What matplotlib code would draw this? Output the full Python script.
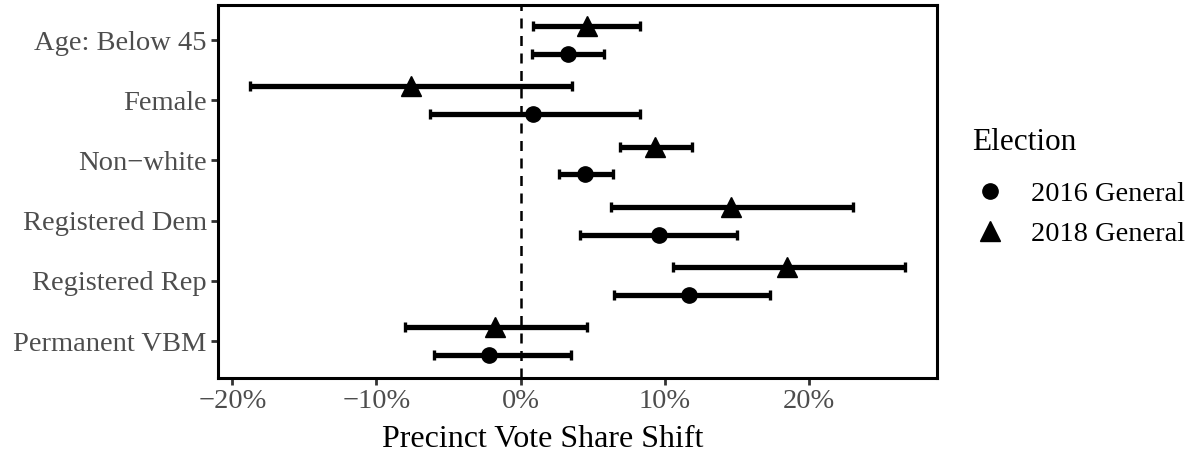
import numpy as np
import matplotlib.pyplot as plt
from matplotlib.lines import Line2D

# ── data (percent) ──
categories = ['Age: Below 45', 'Female', 'Non\u2212white', 'Registered Dem',
              'Registered Rep', 'Permanent VBM']

est_2016 = [3.3, 0.9, 4.5, 9.6, 11.7, -2.2]
lo_2016 = [0.8, -6.3, 2.7, 4.1, 6.5, -6.0]
hi_2016 = [5.8, 8.3, 6.4, 15.0, 17.3, 3.5]

est_2018 = [4.6, -7.6, 9.3, 14.6, 18.5, -1.8]
lo_2018 = [0.9, -18.8, 6.9, 6.3, 10.6, -8.0]
hi_2018 = [8.3, 3.6, 11.9, 23.1, 26.7, 4.6]

xticks = [-20, -10, 0, 10, 20]
legend_labels = ['2016 General', '2018 General']

plt.rcParams['font.family'] = ['Liberation Serif', 'DejaVu Serif']

fig = plt.figure(figsize=(11.95, 4.62), dpi=100)
ax = fig.add_axes([0.1824, 0.182, 0.6016, 0.807])

n = len(categories)
ypos = np.arange(n, 0, -1)  # top category gets the largest y
dodge = 0.23

def draw(est, lo, hi, y, marker, ms):
    est = np.array(est); lo = np.array(lo); hi = np.array(hi)
    ax.errorbar(est, y, xerr=[est - lo, hi - est], fmt='none', ecolor='black',
                elinewidth=3.8, capsize=3.5, capthick=2.4, zorder=2)
    ax.plot(est, y, marker=marker, linestyle='none', color='black',
            markersize=ms, zorder=3)

ax.axvline(0, color='black', linestyle=(0, (4, 3)), linewidth=1.8, zorder=1)
draw(est_2016, lo_2016, hi_2016, ypos - dodge, 'o', 11)
draw(est_2018, lo_2018, hi_2018, ypos + dodge, '^', 15)

ax.set_xlim(-21.0, 28.9)
ax.set_ylim(0.39, n + 0.58)
ax.set_yticks(ypos)
ax.set_yticklabels(categories)
ax.set_xticks(xticks)
ax.set_xticklabels([f'{t}%'.replace('-', '\u2212') for t in xticks])
ax.tick_params(axis='both', labelsize=20.5, labelcolor='#4D4D4D', color='#333333',
               length=5, width=2, pad=3)
for s in ax.spines.values():
    s.set_linewidth(2.2)
    s.set_color('black')
ax.set_xlabel('Precinct Vote Share Shift', fontsize=23)
ax.xaxis.set_label_coords(0.452, -0.125)

# legend: title as separate text so the gap matches
fig.text(972 / 1195, 1 - 143 / 462, 'Election', fontsize=22.5, va='center', ha='left')
handles = [Line2D([], [], marker='o', color='black', linestyle='none', markersize=11),
           Line2D([], [], marker='^', color='black', linestyle='none', markersize=15)]
fig.legend(handles, legend_labels, loc='center left',
           bbox_to_anchor=(973 / 1195, 1 - 214 / 462), frameon=False,
           fontsize=20.5, handletextpad=0.85, labelspacing=0.5, handlelength=1.2,
           borderpad=0, borderaxespad=0)

fig.savefig('out.png', dpi=100)
